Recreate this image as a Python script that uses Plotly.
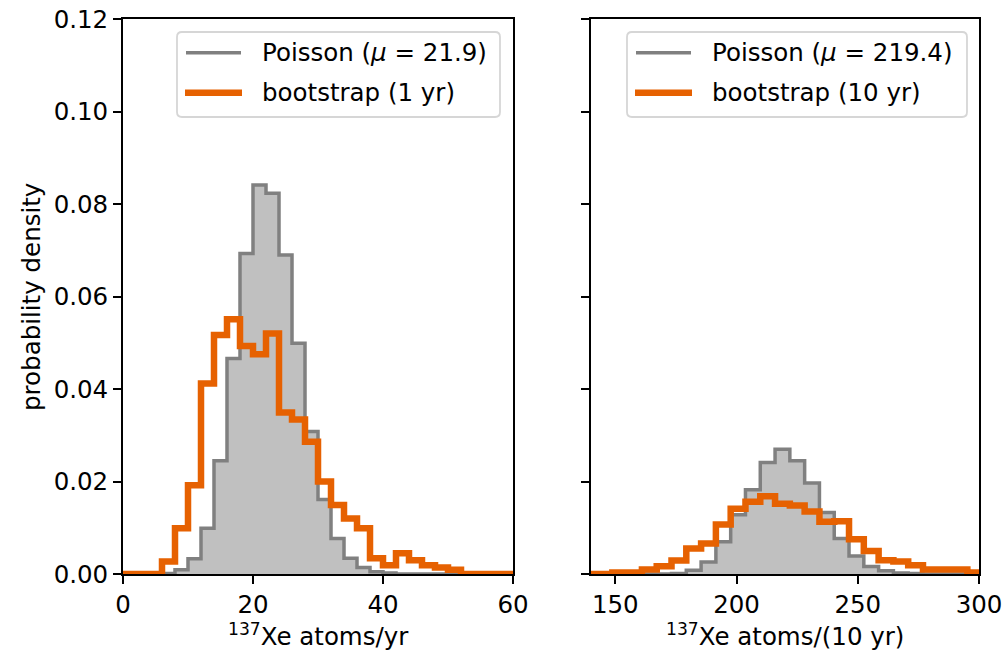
import plotly.graph_objects as go

# ---- data -------------------------------------------------------------
# 1-year counts: bins of width 2 from 0 to 60
edges_1yr = list(range(0, 62, 2))
poisson_1yr = [0, 0, 0, 0.0001, 0.0009, 0.0033, 0.0099, 0.0245, 0.0466, 0.0693,
               0.0841, 0.0823, 0.0690, 0.0499, 0.0308, 0.0161, 0.0077, 0.0034, 0.0014, 0.0005,
               0.0002, 0, 0, 0, 0, 0, 0, 0, 0, 0]
bootstrap_1yr = [0, 0, 0, 0.0027, 0.0099, 0.0192, 0.0412, 0.0517, 0.0551, 0.0493,
                 0.0475, 0.0520, 0.0349, 0.0334, 0.0286, 0.0200, 0.0149, 0.0120, 0.0099, 0.0034,
                 0.0019, 0.0045, 0.0030, 0.0019, 0.0014, 0.0009, 0, 0, 0, 0]

# 10-year counts
edges_10yr = [136.6, 142.7, 148.8, 154.9, 161.0, 167.1, 173.2, 179.3, 185.4, 191.5,
              197.6, 203.7, 209.8, 215.9, 222.0, 228.1, 234.2, 240.3, 246.4, 252.5,
              258.6, 264.7, 270.8, 276.9, 283.0, 289.1, 295.2, 301.3]
poisson_10yr = [0, 0, 0, 0, 0, 0, 0.0001, 0.0008, 0.0026, 0.0070,
                0.0128, 0.0182, 0.0241, 0.0270, 0.0245, 0.0197, 0.0133, 0.0077, 0.0039, 0.0016,
                0.0007, 0.0002, 0.0001, 0, 0, 0, 0]
bootstrap_10yr = [0, 0, 0.0003, 0.0003, 0.0010, 0.0017, 0.0029, 0.0055, 0.0066, 0.0107,
                  0.0141, 0.0156, 0.0168, 0.0152, 0.0148, 0.0135, 0.0113, 0.0114, 0.0075, 0.0050,
                  0.0030, 0.0027, 0.0019, 0.0010, 0.0010, 0.0010, 0.0003]

mu_1yr = 21.9
mu_10yr = 219.4
y_ticks = [0, 0.02, 0.04, 0.06, 0.08, 0.10, 0.12]
x_ticks_1yr = [0, 20, 40, 60]
x_ticks_10yr = [150, 200, 250, 300]

# ---- style ------------------------------------------------------------
W, H = 1005, 656
FONT = "DejaVu Sans"
FS = 24.5
GRAY_EDGE = "#808080"
GRAY_FILL = "#c0c0c0"
ORANGE = "#e66101"


def px(x):
    return x / W


def py(y):
    return 1 - y / H


def step_xy(edges, vals):
    xs = [edges[0]] + list(edges[:-1]) + [edges[-1], edges[-1]]
    ys = [0] + list(vals) + [vals[-1], 0]
    return xs, ys


fig = go.Figure()

panels = [
    (edges_1yr, poisson_1yr, bootstrap_1yr, "x", "y"),
    (edges_10yr, poisson_10yr, bootstrap_10yr, "x2", "y2"),
]
for edges, pois, boot, xa, ya in panels:
    xs, ys = step_xy(edges, pois)
    fig.add_trace(go.Scatter(x=xs, y=ys, mode="lines", line_shape="hv",
                             line=dict(color=GRAY_EDGE, width=3.5),
                             fill="tozeroy", fillcolor=GRAY_FILL,
                             xaxis=xa, yaxis=ya, showlegend=False, hoverinfo="skip"))
    xs, ys = step_xy(edges, boot)
    fig.add_trace(go.Scatter(x=xs, y=ys, mode="lines", line_shape="hv",
                             line=dict(color=ORANGE, width=6.5),
                             xaxis=xa, yaxis=ya, showlegend=False, hoverinfo="skip"))

axis_common = dict(showline=True, linecolor="black", linewidth=1.8, mirror=True,
                   ticks="outside", ticklen=8, tickwidth=1.8, tickcolor="black",
                   showgrid=False, zeroline=False,
                   tickfont=dict(family=FONT, size=FS, color="black"))

fig.update_layout(
    width=W, height=H,
    margin=dict(l=0, r=0, t=0, b=0, autoexpand=False),
    paper_bgcolor="white", plot_bgcolor="white",
    showlegend=False,
    xaxis=dict(domain=[px(123), px(513)], range=[0, 60], tickvals=x_ticks_1yr,
               anchor="y", **axis_common),
    yaxis=dict(domain=[py(574), py(19)], range=[0, 0.12], tickvals=y_ticks,
               tickformat=".2f", anchor="x", **axis_common),
    xaxis2=dict(domain=[px(591), px(979)], range=[140, 300], tickvals=x_ticks_10yr,
                anchor="y2", **axis_common),
    yaxis2=dict(domain=[py(574), py(19)], range=[0, 0.12], tickvals=y_ticks,
                showticklabels=False, anchor="x2", **axis_common),
)

# axis labels
label_font = dict(family=FONT, size=FS, color="black")
fig.add_annotation(x=px(318), y=py(635), xref="paper", yref="paper",
                   text="<sup>137</sup>Xe atoms/yr", showarrow=False,
                   xanchor="center", yanchor="middle", font=label_font)
fig.add_annotation(x=px(785), y=py(635), xref="paper", yref="paper",
                   text="<sup>137</sup>Xe atoms/(10 yr)", showarrow=False,
                   xanchor="center", yanchor="middle", font=label_font)
fig.add_annotation(x=px(31), y=py(297), xref="paper", yref="paper",
                   text="probability density", textangle=-90, showarrow=False,
                   xanchor="center", yanchor="middle", font=label_font)


# legends drawn as boxed entries in each panel
def rounded_box(x0, y0, x1, y1, r=5):
    rx, ry = r / W, r / H
    X0, X1 = px(x0), px(x1)
    Yt, Yb = py(y0), py(y1)
    return (f"M {X0+rx},{Yt} L {X1-rx},{Yt} Q {X1},{Yt} {X1},{Yt-ry} "
            f"L {X1},{Yb+ry} Q {X1},{Yb} {X1-rx},{Yb} "
            f"L {X0+rx},{Yb} Q {X0},{Yb} {X0},{Yb+ry} "
            f"L {X0},{Yt-ry} Q {X0},{Yt} {X0+rx},{Yt} Z")


legends = [
    (177, 500, 186, 241, 260, f"Poisson (<i>μ</i> = {mu_1yr})", "bootstrap (1 yr)"),
    (627, 967, 636, 691, 710, f"Poisson (<i>μ</i> = {mu_10yr})", "bootstrap (10 yr)"),
]
for bx0, bx1, lx0, lx1, tx, t1, t2 in legends:
    fig.add_shape(type="path", path=rounded_box(bx0, 32, bx1, 117), xref="paper", yref="paper",
                  line=dict(color="#d6d6d6", width=1.8), fillcolor="rgba(255,255,255,0.8)")
    fig.add_shape(type="line", x0=px(lx0), x1=px(lx1), y0=py(52.7), y1=py(52.7),
                  xref="paper", yref="paper", line=dict(color=GRAY_EDGE, width=3.5))
    fig.add_shape(type="line", x0=px(lx0 - 1), x1=px(lx1 + 1), y0=py(92.7), y1=py(92.7),
                  xref="paper", yref="paper", line=dict(color=ORANGE, width=6.5))
    fig.add_annotation(x=px(tx), y=py(52.7), xref="paper", yref="paper", text=t1,
                       showarrow=False, xanchor="left", yanchor="middle", font=label_font)
    fig.add_annotation(x=px(tx), y=py(92.7), xref="paper", yref="paper", text=t2,
                       showarrow=False, xanchor="left", yanchor="middle", font=label_font)

fig.write_html("out.html")
